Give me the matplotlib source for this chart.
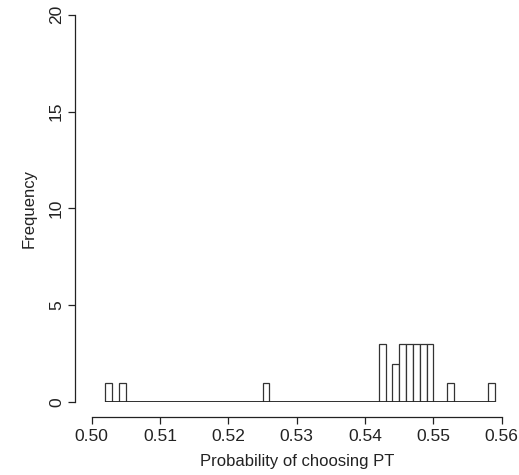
import numpy as np
import matplotlib
matplotlib.use('Agg')
import matplotlib.pyplot as plt

# simulated probabilities of choosing PT (one value per run)
p_choose_pt = [0.5025, 0.5045, 0.5255,
               0.5425, 0.5425, 0.5425,
               0.5445, 0.5445,
               0.5455, 0.5455, 0.5455,
               0.5465, 0.5465, 0.5465,
               0.5475, 0.5475, 0.5475,
               0.5485, 0.5485, 0.5485,
               0.5495, 0.5495, 0.5495,
               0.5525, 0.5585]
breaks = np.round(np.linspace(0.502, 0.559, 58), 3)
x_ticks = [0.50, 0.51, 0.52, 0.53, 0.54, 0.55, 0.56]
y_ticks = [0, 5, 10, 15, 20]

plt.rcParams['font.family'] = ['Liberation Sans', 'DejaVu Sans']

fig = plt.figure(figsize=(5.19, 4.75), dpi=100)
ax = fig.add_axes([0.1767, 0.1531, 0.790, 0.816])

ax.hist(p_choose_pt, bins=breaks, facecolor='white', edgecolor='#333333', linewidth=0.9)
# empty bins still show as a flat line along zero
ax.plot([breaks[0], breaks[-1]], [0, 0], color='#222222', linewidth=1.3,
        solid_capstyle='butt', zorder=3)

ax.set_xlim(0.50, 0.56)
ax.set_ylim(0, 20)
ax.set_xticks(x_ticks)
ax.set_xticklabels(['%.2f' % t for t in x_ticks])
ax.set_yticks(y_ticks)
ax.set_yticklabels([str(t) for t in y_ticks])

# R-style detached axes
for s in ['top', 'right']:
    ax.spines[s].set_visible(False)
ax.spines['left'].set_position(('outward', 12))
ax.spines['bottom'].set_position(('outward', 10.4))
ax.spines['left'].set_bounds(0, 20)
ax.spines['bottom'].set_bounds(0.50, 0.56)
for s in ['left', 'bottom']:
    ax.spines[s].set_linewidth(0.9)
    ax.spines[s].set_color('#222222')
ax.tick_params(length=5, width=0.9, colors='#222222', labelcolor='#222222', labelsize=12.5)
ax.tick_params(axis='x', pad=4)
ax.tick_params(axis='y', pad=3, labelrotation=90)
for lbl in ax.get_yticklabels():
    lbl.set_va('center')

ax.set_xlabel('Probability of choosing PT', color='#222222', fontsize=12, labelpad=7)
ax.set_ylabel('Frequency', color='#222222', fontsize=12, labelpad=9)

fig.savefig('out.png', dpi=100)
